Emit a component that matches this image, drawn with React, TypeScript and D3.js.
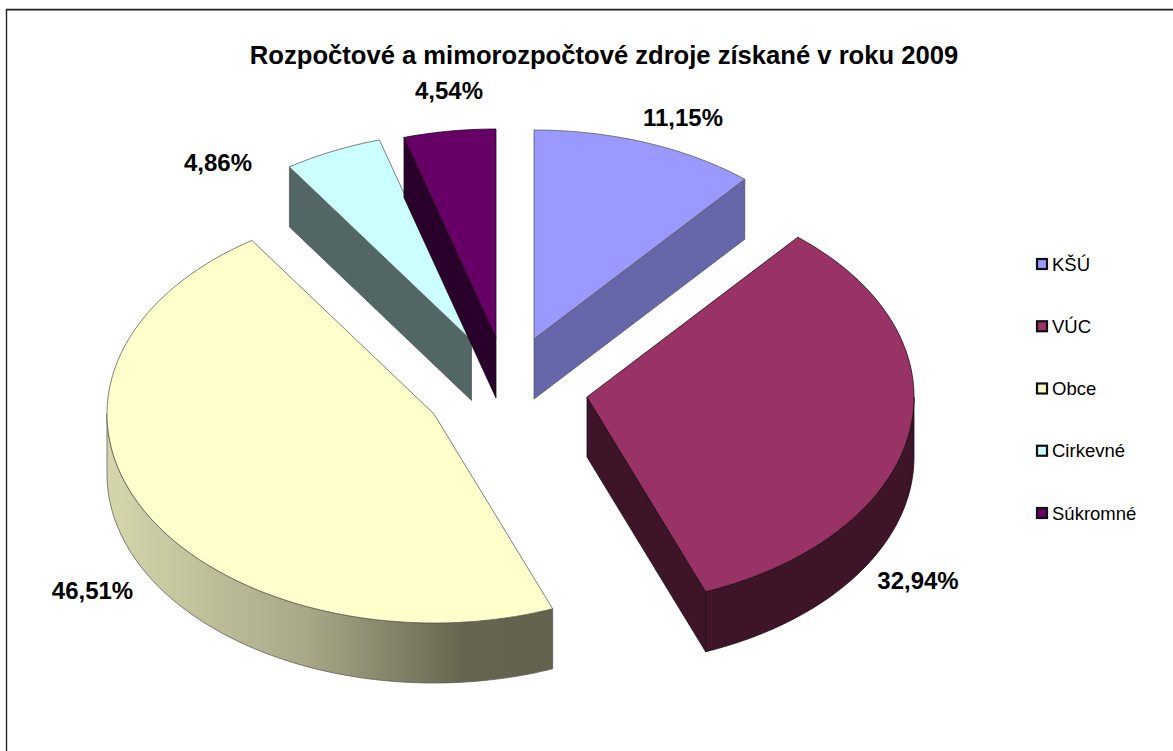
import React from "react";
import * as d3 from "d3";

const categories = ["KŠÚ", "VÚC", "Obce", "Cirkevné", "Súkromné"];
const shares = [11.15, 32.94, 46.51, 4.86, 4.54];
const labels = ["11,15%", "32,94%", "46,51%", "4,86%", "4,54%"];
const topColors = ["#9999FF", "#993366", "#FFFFCC", "#CCFFFF", "#660066"];
const sideColors = ["#6666AA", "#3D1428", "url(#obceSide)", "#526666", "#290029"];
const title = "Rozpočtové a mimorozpočtové zdroje získané v roku 2009";

// layout (pixels)
const W = 1173, H = 751;
const RX = 327, RY = 209, DEPTH = 60;
const apexes: [number, number][] = [[534, 339], [587, 397], [434, 414], [471.5, 340.5], [496, 338]];
const labelPos: [number, number][] = [[683, 126], [918, 589], [92.5, 599], [218, 171], [449, 99]];
const drawOrder = [3, 4, 0, 1, 2];
const legendY = d3.scalePoint<string>().domain(categories).range([264, 513]);

const pie = d3.pie<number>().value((d) => d).sort(null);
const arcs = pie(shares);
const line = d3.line();

function ell(i: number, a: number, dz = 0): [number, number] {
  const [ax, ay] = apexes[i];
  return [ax + RX * Math.sin(a), ay - RY * Math.cos(a) + dz];
}
function samples(a0: number, a1: number) {
  const n = Math.max(2, Math.ceil(Math.abs(a1 - a0) / 0.02));
  return d3.range(n + 1).map((k) => a0 + ((a1 - a0) * k) / n);
}
function topPath(i: number) {
  const { startAngle: s, endAngle: e } = arcs[i];
  return line([apexes[i], ...samples(s, e).map((a) => ell(i, a))]) + "Z";
}
// outer rim, restricted to the front half of the ellipse
function rimPath(i: number) {
  const s = Math.max(arcs[i].startAngle, Math.PI / 2);
  const e = Math.min(arcs[i].endAngle, (3 * Math.PI) / 2);
  if (e <= s) return null;
  const a = samples(s, e);
  return line([...a.map((t) => ell(i, t)), ...a.slice().reverse().map((t) => ell(i, t, DEPTH))]) + "Z";
}
// radial cut face
function cutPath(i: number, a: number) {
  const [ax, ay] = apexes[i];
  const p = ell(i, a);
  return line([[ax, ay], p, [p[0], p[1] + DEPTH], [ax, ay + DEPTH]]) + "Z";
}
function cutAngle(i: number) {
  const { startAngle: s, endAngle: e } = arcs[i];
  if (i === 1) return e;
  if (e < Math.PI / 2) return e;
  if (s > Math.PI) return s;
  return null;
}

export default function App() {
  return (
    <svg
      width={W}
      height={H}
      style={{ position: "absolute", left: 0, top: 0, background: "#fff" }}
      fontFamily="'Liberation Sans', Arial, sans-serif"
    >
      <defs>
        <linearGradient id="obceSide" gradientUnits="userSpaceOnUse" x1={107} x2={552} y1={0} y2={0}>
          <stop offset="0" stopColor="#D6D6AC" />
          <stop offset="0.45" stopColor="#A8A888" />
          <stop offset="0.8" stopColor="#666650" />
          <stop offset="1" stopColor="#62624D" />
        </linearGradient>
      </defs>
      <line x1={6} x2={W} y1={10.5} y2={10.5} stroke="#aaa" strokeWidth={1} />
      <path d={`M6.5,${H}V9.5H${W}`} fill="none" stroke="#222" strokeWidth={1.4} />
      <text x={604} y={64} textAnchor="middle" fontSize={25.6} fontWeight="bold">{title}</text>

      {drawOrder.map((i) => {
        const cut = cutAngle(i);
        const rim = rimPath(i);
        const edge = i === 1 || i === 4 ? "#1a0a14" : "#555";
        return (
          <g key={categories[i]} stroke={edge} strokeWidth={0.75} strokeLinejoin="round">
            {cut !== null && <path d={cutPath(i, cut) ?? ""} fill={sideColors[i]} />}
            {rim && <path d={rim} fill={sideColors[i]} />}
            <path d={topPath(i)} fill={topColors[i]} />
          </g>
        );
      })}

      {labels.map((l, i) => (
        <text key={l} x={labelPos[i][0]} y={labelPos[i][1]} textAnchor="middle" fontSize={24} fontWeight="bold">{l}</text>
      ))}

      {categories.map((c, i) => {
        const y = legendY(c) ?? 0;
        return (
          <g key={c}>
            <rect x={1037} y={y - 5} width={10} height={10} fill={topColors[i]} stroke="#111" strokeWidth={2.2} />
            <text x={1052} y={y + 6.5} fontSize={18.5}>{c}</text>
          </g>
        );
      })}
    </svg>
  );
}
